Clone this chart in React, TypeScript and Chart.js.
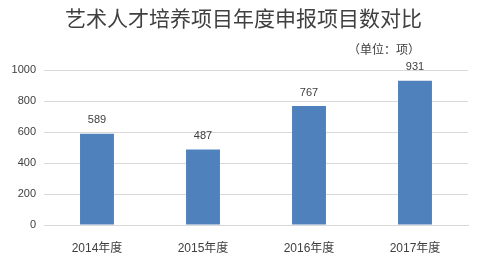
import React, { useEffect, useRef } from "react";
import { Chart, registerables } from "chart.js";

Chart.register(...registerables);

const title = "艺术人才培养项目年度申报项目数对比";
const unitLabel = "（单位：项）";
const categories = ["2014年度", "2015年度", "2016年度", "2017年度"];
const values = [589, 487, 767, 931];
const yMin = 0;
const yMax = 1000;
const yStep = 200;

const FONT = '"Liberation Sans", "Noto Sans CJK SC", sans-serif';

const overlay = {
  id: "overlay",
  afterDatasetsDraw(chart: any) {
    const ctx = chart.ctx;
    ctx.save();
    // title
    ctx.fillStyle = "#404040";
    ctx.font = `21px "Noto Sans CJK SC", sans-serif`;
    ctx.textAlign = "center";
    ctx.textBaseline = "middle";
    ctx.fillText(title, chart.width / 2, 18);
    // unit
    ctx.font = `12px "Noto Sans CJK SC", sans-serif`;
    ctx.textAlign = "right";
    ctx.fillText(unitLabel, 420, 49);
    // data labels
    ctx.font = `11px ${FONT}`;
    ctx.textAlign = "center";
    ctx.textBaseline = "bottom";
    ctx.fillStyle = "#404040";
    const meta = chart.getDatasetMeta(0);
    meta.data.forEach((bar: any, i: number) => {
      ctx.fillText(String(values[i]), bar.x, bar.y - 8);
    });
    ctx.restore();
  },
};

export default function App() {
  const ref = useRef<HTMLCanvasElement>(null);
  useEffect(() => {
    if (!ref.current) return;
    const chart = new Chart(ref.current, {
      type: "bar",
      data: {
        labels: categories,
        datasets: [
          {
            data: values,
            backgroundColor: "#4F81BD",
            borderWidth: 0,
            barPercentage: 0.32,
            categoryPercentage: 1,
          },
        ],
      },
      options: {
        animation: false,
        responsive: false,
        maintainAspectRatio: false,
        devicePixelRatio: 1,
        layout: { padding: { top: 70, left: 0, right: 19, bottom: 0 } },
        plugins: {
          legend: { display: false },
          tooltip: { enabled: false },
          title: { display: false },
        },
        scales: {
          x: {
            grid: { display: false },
            border: { display: true, color: "#D9D9D9" },
            ticks: {
              color: "#404040",
              font: { size: 12, family: FONT },
              padding: 8,
              maxRotation: 0,
            },
            afterFit: (s: any) => {
              s.height = 34;
            },
          },
          y: {
            min: yMin,
            max: yMax,
            grid: { color: "#D9D9D9", drawTicks: false },
            border: { display: false },
            ticks: {
              stepSize: yStep,
              color: "#404040",
              font: { size: 11, family: FONT },
              padding: 8,
              callback: (v: any) => String(v),
            },
            afterFit: (s: any) => {
              s.width = 44;
            },
          },
        },
      },
      plugins: [overlay],
    });
    return () => chart.destroy();
  }, []);
  return (
    <div style={{ position: "fixed", left: 0, top: 0, width: 487, height: 259, background: "#fff" }}>
      <canvas ref={ref} width={487} height={259} style={{ display: "block" }} />
    </div>
  );
}
